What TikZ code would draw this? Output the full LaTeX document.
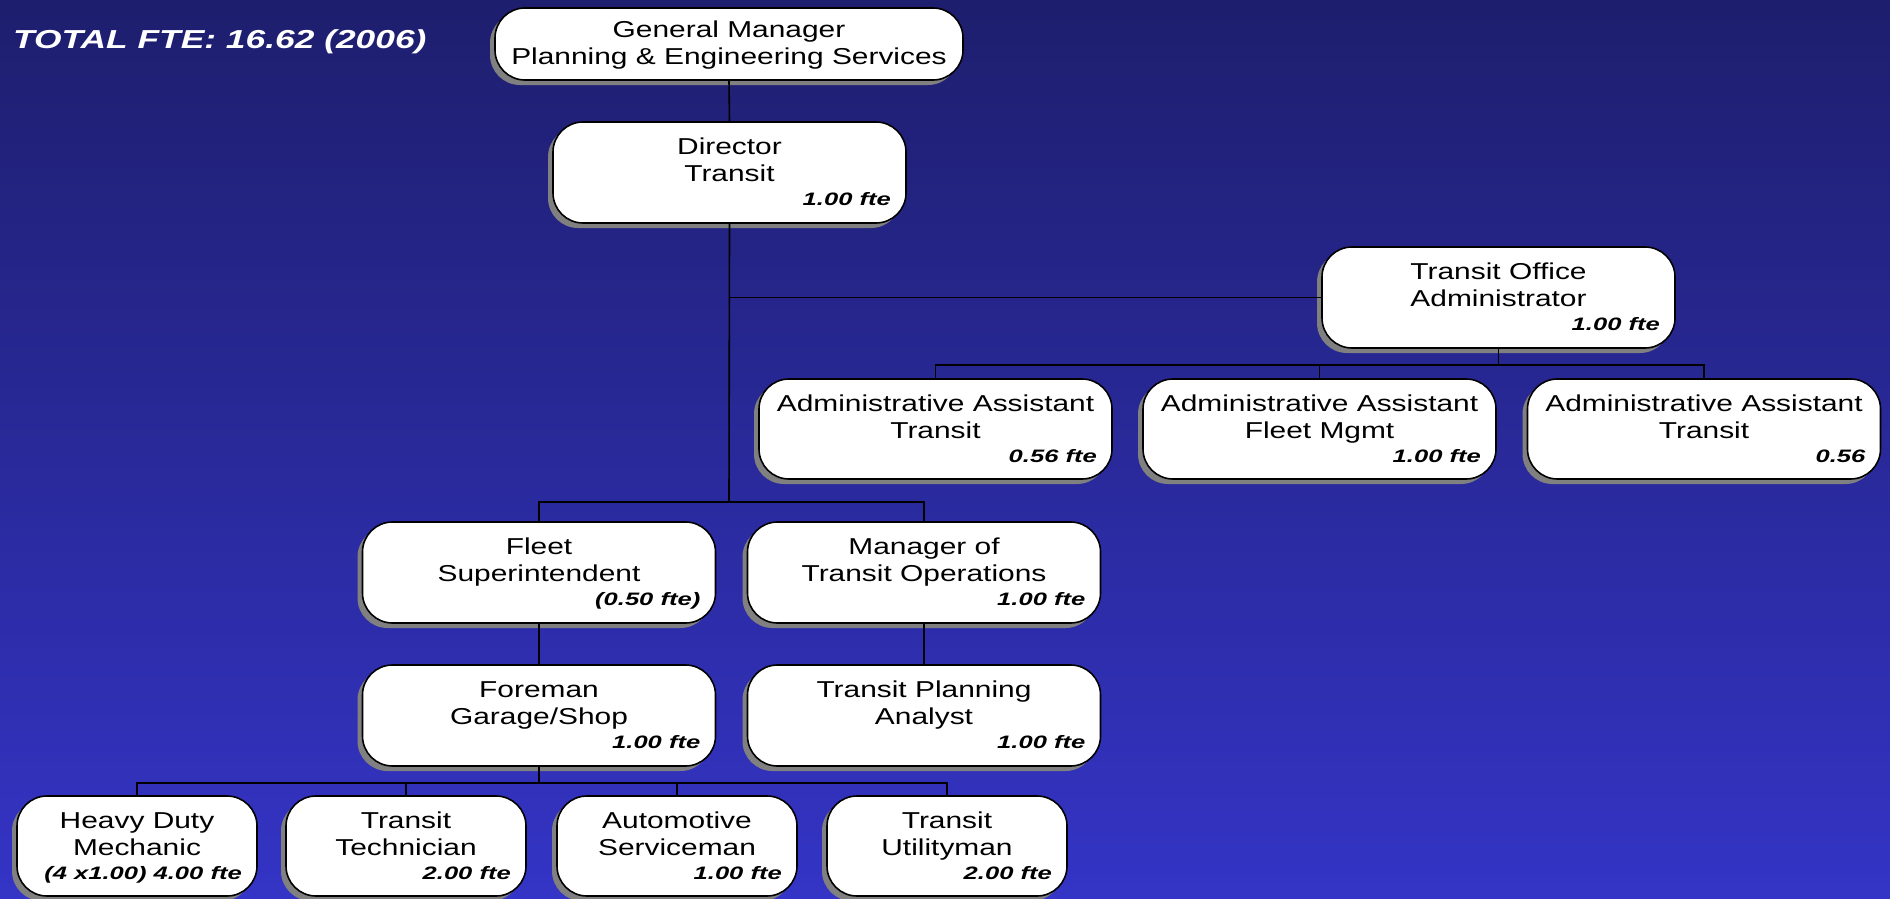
\documentclass[tikz,border=0pt]{standalone}
\usepackage{fontspec}
\setmainfont{Liberation Sans}[FakeStretch=1.30]
\newfontfamily\ftefont{Liberation Sans}[FakeStretch=1.42]
\newfontfamily\ttlfont{Liberation Sans}[FakeStretch=1.36]
\usetikzlibrary{shadows}
\definecolor{bgtop}{RGB}{30,30,110}
\definecolor{bgbot}{RGB}{52,52,198}
\definecolor{shgray}{RGB}{128,128,128}
\tikzset{
  obox/.style={draw=black, line width=1.6pt, fill=white, rounded corners=30pt,
    inner sep=0pt, drop shadow={shadow xshift=-5pt, shadow yshift=-5pt, fill=shgray, opacity=1}},
  otext/.style={anchor=base, inner sep=0pt, font=\fontsize{23}{27}\selectfont},
  ofte/.style={anchor=base east, inner sep=0pt, font=\ftefont\bfseries\itshape\fontsize{18}{20}\selectfont},
  conn/.style={draw=black, line width=1.6pt}
}
\newcommand{\orgbox}[8]{%
  \node[obox, minimum width=#4pt, minimum height=#5pt] (#1) at (#2, #3+#5/2) {};
  \node[otext] (#1-a) at (#2, #3+32.5) {#6};
  \node[otext] (#1-b) at (#2, #3+59) {#7};
  \node[ofte] (#1-f) at (#2+#4/2-15, #3+83) {#8};
}
\begin{document}
\begin{tikzpicture}[x=1pt, y=-1pt]
\fill[top color=bgtop, bottom color=bgbot] (0,0) rectangle (1890,899);
\useasboundingbox (0,0) rectangle (1890,899);

% title
\node[anchor=base west, inner sep=0pt, text=white, font=\ttlfont\bfseries\itshape\fontsize{26}{28}\selectfont] (title) at (13,48.3) {TOTAL FTE: 16.62 (2006)};

% connector coordinates
\coordinate (bus1) at (729,502);

% boxes
\node[obox, minimum width=468pt, minimum height=72pt] (gm) at (729,44) {};
\node[otext] (gm-a) at (729,37.7) {General Manager};
\node[otext] (gm-b) at (729,64.2) {Planning \& Engineering Services};

\orgbox{dir}{729.5}{122}{353}{101}{Director}{Transit}{1.00 fte}
\orgbox{toa}{1498.5}{247}{353}{101}{Transit Office}{Administrator}{1.00 fte}
\orgbox{aa1}{935.5}{379}{353}{100}{Administrative Assistant}{Transit}{0.56 fte}
\orgbox{aa2}{1319.5}{379}{353}{100}{Administrative Assistant}{Fleet Mgmt}{1.00 fte}
\orgbox{aa3}{1704}{379}{353}{100}{Administrative Assistant}{Transit}{0.56}
\orgbox{fleet}{539}{522}{353}{101}{Fleet}{Superintendent}{(0.50 fte)}
\orgbox{mgr}{924}{522}{353}{101}{Manager of}{Transit Operations}{1.00 fte}
\orgbox{fore}{539}{665}{353}{101}{Foreman}{Garage/Shop}{1.00 fte}
\orgbox{tpa}{924}{665}{353}{101}{Transit Planning}{Analyst}{1.00 fte}
\orgbox{hdm}{137}{796}{240}{100}{Heavy Duty}{Mechanic}{(4 x1.00) 4.00 fte}
\orgbox{tt}{406}{796}{240}{100}{Transit}{Technician}{2.00 fte}
\orgbox{asv}{677}{796}{240}{100}{Automotive}{Serviceman}{1.00 fte}
\orgbox{tu}{947}{796}{240}{100}{Transit}{Utilityman}{2.00 fte}

% connectors
\draw[conn] (gm.south) -- (dir.north);
\draw[conn] (dir.south) -- (bus1);
\draw[conn] (dir.south |- toa.west) -- (toa.west);
\draw[conn] (fleet.north) |- (bus1) -| (mgr.north);
\draw[conn] (fleet.south) -- (fore.north);
\draw[conn] (mgr.south) -- (tpa.north);
\coordinate (bus2) at (1498.5,365);
\draw[conn] (toa.south) -- (bus2);
\draw[conn] (aa1.north) |- (bus2) -| (aa3.north);
\draw[conn] (aa2.north) -- (aa2.north |- bus2);
\coordinate (bus3) at (539,783);
\draw[conn] (fore.south) -- (bus3);
\draw[conn] (hdm.north) |- (bus3) -| (tu.north);
\draw[conn] (tt.north) -- (tt.north |- bus3);
\draw[conn] (asv.north) -- (asv.north |- bus3);
\end{tikzpicture}
\end{document}
